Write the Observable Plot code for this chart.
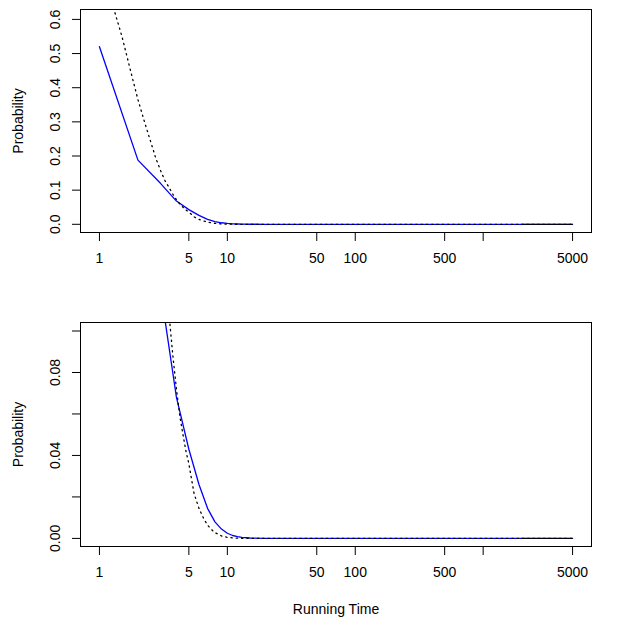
<!DOCTYPE html>
<html>
<head>
<meta charset="utf-8">
<script src="https://cdn.jsdelivr.net/npm/d3@7"></script>
<script src="https://cdn.jsdelivr.net/npm/@observablehq/plot@0.6"></script>
<style>
  html, body { margin: 0; padding: 0; background: white; }
  #chart svg { display: block; }
</style>
</head>
<body>
<div id="chart"></div>
<script>
// Observed (blue, solid) probability by running time
const blueX = [1, 2, 3, 4, 5, 6, 7, 8, 9, 10, 11, 12, 13, 15, 20, 30, 50, 100, 200, 500, 1000, 2000, 5000];
const blueY = [0.52, 0.188, 0.12, 0.068, 0.043, 0.026, 0.0145, 0.008, 0.0045, 0.0025, 0.0014, 0.0009, 0.0005, 0.0002, 0, 0, 0, 0, 0, 0, 0, 0, 0];

// Reference (black, dotted) probability by running time
const refX = [1, 1.25, 1.5, 1.75, 2, 2.25, 2.5, 2.75, 3, 3.25, 3.5, 3.75, 4, 4.25, 4.5, 4.75, 5, 5.5, 6, 6.5, 7, 7.5, 8, 9, 10, 12, 15, 20, 50, 100, 500, 1000, 2000, 5000];
const refY = [0.80, 0.65, 0.55, 0.45, 0.365, 0.30, 0.245, 0.195, 0.158, 0.128, 0.108, 0.088, 0.072, 0.059, 0.050, 0.042, 0.036, 0.0215, 0.0145, 0.0098, 0.0064, 0.0043, 0.0028, 0.0012, 0.0005, 0.0001, 0, 0, 0, 0, 0, 0, 0, 0];

// Axis ticks and labels
const xTicks = [1, 5, 10, 50, 100, 500, 1000, 5000];
const xTickLabels = ["1", "5", "10", "50", "100", "500", "", "5000"];
const yTicksTop = [0, 0.1, 0.2, 0.3, 0.4, 0.5, 0.6];
const yLabelsTop = ["0.0", "0.1", "0.2", "0.3", "0.4", "0.5", "0.6"];
const yTicksBottom = [0, 0.02, 0.04, 0.06, 0.08, 0.1];
const yLabelsBottom = ["0.00", "", "0.04", "", "0.08", ""];
const yLabel = "Probability";
const xLabel = "Running Time";

const blue = blueX.map((x, i) => ({x, y: blueY[i]}));
const ref = refX.map((x, i) => ({x, y: refY[i]}));

function panel({height, yDomain, yTicks, yLabels, showXLabel}) {
  const xFmt = new Map(xTicks.map((t, i) => [t, xTickLabels[i]]));
  const yFmt = new Map(yTicks.map((t, i) => [t, yLabels[i]]));
  return Plot.plot({
    width: 627,
    height,
    marginTop: 9,
    marginBottom: 81,
    marginLeft: 80,
    marginRight: 36,
    style: {fontFamily: "'Liberation Sans', Arial, sans-serif", fontSize: "14px", color: "black", background: "white"},
    x: {type: "log", domain: [0.711, 7031]},
    y: {domain: yDomain},
    marks: [
      Plot.line(blue, {x: "x", y: "y", stroke: "#0000ff", strokeWidth: 1.3, clip: true}),
      Plot.line(ref, {x: "x", y: "y", stroke: "black", strokeWidth: 1.3, strokeDasharray: "1.3,4", clip: true}),
      Plot.line(ref.filter(d => d.x >= 2000), {x: "x", y: "y", stroke: "black", strokeWidth: 1, clip: true}),
      Plot.frame({stroke: "black"}),
      Plot.axisX(xTicks, {text: d => xFmt.get(d), tickSize: 9, tickPadding: 12, label: null}),
      Plot.axisY(yTicks, {text: d => yFmt.get(d), tickSize: 8, tickPadding: 13, tickRotate: -90, label: null}),
      Plot.text([yLabel], {frameAnchor: "left", textAnchor: "middle", lineAnchor: "middle", dx: -62, rotate: -90}),
      showXLabel ? Plot.text([xLabel], {frameAnchor: "bottom", dy: 67}) : null
    ]
  });
}

const chart = document.getElementById("chart");
chart.append(panel({height: 313, yDomain: [-0.024, 0.629], yTicks: yTicksTop, yLabels: yLabelsTop, showXLabel: false}));
chart.append(panel({height: 314, yDomain: [-0.0039, 0.1041], yTicks: yTicksBottom, yLabels: yLabelsBottom, showXLabel: true}));
</script>
</body>
</html>
